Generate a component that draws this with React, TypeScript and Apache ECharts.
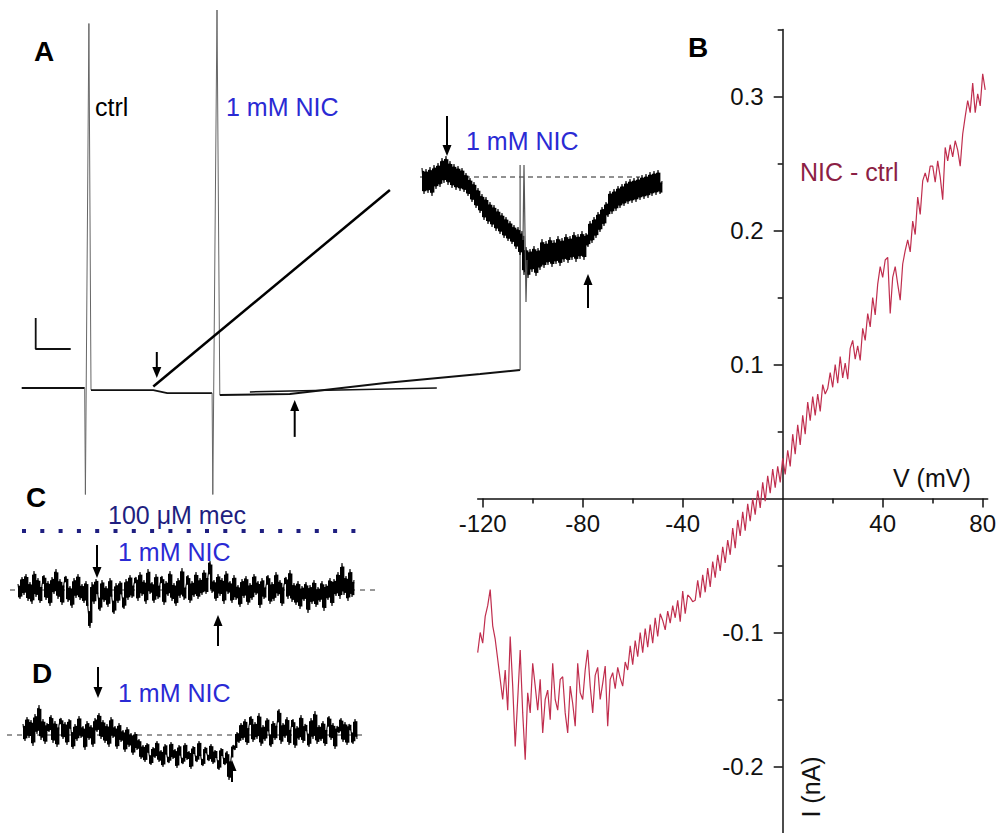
import React, { useEffect, useRef } from "react";
import * as echarts from "echarts";

// ---------- Panel B: I–V relation of the NIC-evoked current (NIC − ctrl) ----------
const ivStartMv = -122;
const ivStepMv = 1;
const ivCurrentNA = [
  -0.115, -0.100, -0.108, -0.088, -0.080, -0.068, -0.095, -0.105, -0.120, -0.135,
  -0.150, -0.128, -0.158, -0.103, -0.140, -0.185, -0.150, -0.113, -0.160, -0.195,
  -0.145, -0.160, -0.123, -0.140, -0.158, -0.135, -0.175, -0.150, -0.143, -0.165,
  -0.123, -0.150, -0.158, -0.135, -0.133, -0.160, -0.175, -0.140, -0.153, -0.170,
  -0.123, -0.145, -0.150, -0.128, -0.113, -0.140, -0.160, -0.132, -0.126, -0.150,
  -0.138, -0.125, -0.170, -0.135, -0.130, -0.142, -0.126, -0.134, -0.140, -0.122,
  -0.128, -0.110, -0.124, -0.106, -0.118, -0.100, -0.115, -0.097, -0.111, -0.094,
  -0.108, -0.089, -0.103, -0.086, -0.091, -0.098, -0.084, -0.093, -0.080, -0.089,
  -0.076, -0.092, -0.069, -0.086, -0.072, -0.074, -0.077, -0.076, -0.061, -0.074,
  -0.057, -0.070, -0.052, -0.066, -0.047, -0.059, -0.042, -0.054, -0.036, -0.048,
  -0.031, -0.042, -0.022, -0.037, -0.016, -0.028, -0.010, -0.024, -0.004, -0.017,
  0.000, -0.012, 0.006, -0.007, 0.012, -0.002, 0.017, 0.004, 0.022, 0.008,
  0.024, 0.012, 0.030, 0.018, 0.036, 0.024, 0.048, 0.033, 0.055, 0.040,
  0.062, 0.048, 0.072, 0.058, 0.076, 0.062, 0.078, 0.065, 0.085, 0.078,
  0.082, 0.094, 0.083, 0.100, 0.086, 0.106, 0.090, 0.101, 0.089, 0.112,
  0.118, 0.104, 0.114, 0.103, 0.127, 0.118, 0.138, 0.128, 0.150, 0.137,
  0.160, 0.173, 0.165, 0.178, 0.180, 0.138, 0.165, 0.173, 0.160, 0.148,
  0.175, 0.185, 0.193, 0.184, 0.207, 0.197, 0.225, 0.212, 0.237, 0.243,
  0.236, 0.248, 0.248, 0.236, 0.252, 0.240, 0.223, 0.262, 0.252, 0.264,
  0.255, 0.267, 0.260, 0.248, 0.272, 0.285, 0.297, 0.288, 0.310, 0.288,
  0.302, 0.293, 0.317, 0.305,
];
const xMajorTicksMv = [-120, -80, -40, 40, 80];
const xMinorTicksMv = [-100, -60, -20, 20, 60];
const yMajorTicksNA = [-0.2, -0.1, 0.1, 0.2, 0.3];
const yMinorTicksNA = [-0.15, -0.05, 0.05, 0.15, 0.25, 0.35];

// ---------- Panel A: whole-cell current (time s, current pA) ----------
const traceACtrl = [[3.1, 0], [12.1, 0]];
const traceARamp1 = [[12.1, 0], [12.2, -355], [12.7, 1215], [13.0, -7]];
const traceAMid = [[13.0, -7], [21.9, -7], [23.9, -17], [30.3, -17]];
const traceARamp2 = [[30.3, -17], [30.4, -355], [31.0, 1260], [31.4, -23]];
const traceANic = [[31.4, -23], [41.4, -20], [55.0, 17], [68.6, 47], [74.3, 60]];
const traceARamp3 = [[74.3, 60], [74.3, 743]];
const traceACtrlOverlay = [[35.7, -13], [62.4, 0]];
const zoomLine = [[21.9, 5], [55.7, 660]];
const scaleBar = [[5.1, 233], [5.1, 130], [10.1, 130]]; // 5 s / 100 pA

// inset (magnified NIC response)
const insetStartS = 0.2;
const insetStepS = 0.2;
const insetCurrentPA = [
  9, -17, 8, -16, 10, -19,
  12, -12, 14, -10, 19, -6, 21, -8, 16, -11, 13, -13, 11, -14,
  9, -15, 4, -19, -1, -25, -5, -31, -11, -36, -17,
  -43, -20, -47, -25, -50, -28, -54, -32, -57, -36, -61, -40, -64, -44, -67, -48, -72,
  -50, -78, -54,
  -98, -70, -101, -72, -95, -69, -99, -71,
  -93, -62, -91, -64, -88, -60, -90, -63, -87, -59, -89, -61,
  -85, -57, -86, -59, -83, -55, -85, -57, -82, -54, -83, -56,
  -70, -44, -66, -40, -61, -35, -55, -30, -49, -25,
  -40, -14, -37, -12, -34, -9, -31, -7, -29, -4, -27, -2, -26,
  -1, -25, 0, -23, 2, -22, 3, -21, 5, -19, 6, -18, 7, -17, -4,
];
const insetSpike = [[10.3, -63], [10.4, 12], [10.6, -125], [10.7, -83]];
const insetBaseline = [[0, 0], [22, 0]];

// ---------- Panel C: 100 µM mecamylamine + 1 mM NIC ----------
const cStartS = 1.8;
const cStepS = 0.2;
const cCurrentPA = [
  6, -9, 13, -5, 16, -11, 8, -14, 19, -7,
  12, -13, 5, 15, -10, 9, -16, 13, -4, 21,
  -9, 11, -15, 7, 14, -12, 4, -18, 12, -8,
  16, -10, 6, -13, 9, -19, -38, 8, -14, 11,
  -6, -21, 10, -12, 4, -17, 12, -9, -24, 7,
  -13, 9, -6, -19, 11, -10, 15, -8, 6, 13,
  -11, 18, -6, 10, -14, 21, -4, 8, -13, 16,
  -9, 6, 14, -15, 9, -6, 19, -11, 7, -16,
  12, -8, 22, -10, 4, 15, -13, 9, -7, 18,
  -9, 12, -5, 20, -4, 14, 29, -3, 10, -11,
  16, -6, 12, -14, 19, -4, 9, -13, 15, -10,
  5, -17, 11, -8, 14, -15, 7, -10, 16, -5,
  9, -18, 12, -9, 4, 15, -14, 8, -11, 18,
  -6, 10, -16, 5, 13, -9, 20, -12, 7, -15,
  9, -19, 4, -11, 8, -23, 5, -14, 10, -17,
  3, -12, 9, -21, 6, -10, 12, -16, 11, -6,
  18, -9, 27, -5, 14, -11, 21, -7, 10,
];
const cBaseline = [[1.0, 0], [37.8, 0]];
const mecBar = [[2.2, 59], [35.8, 59]];

// ---------- Panel D: 1 mM NIC ----------
const dStartS = 2.3;
const dStepS = 0.2;
const dCurrentPA = [
  11, -6, 18, -3, 15, -11, 21, 1, 30, -5,
  16, -9, 12, 3, 20, -8, 14, -12, 10, 17,
  -4, 13, -10, 16, 5, -14, 11, -6, 19, -3,
  9, -15, 14, -5, 10, -12, 17, 3, 22, -4,
  15, -8, 11, -12, 18, -3, 9, -14, 12, -7,
  5, -17, 8, -12, 2, -20, 3, -15, -4, -24,
  -10, -27, -8, -19, -30, -12, -23, -6, -27, -15,
  -32, -9, -21, -28, -7, -24, -14, -33, -10, -22,
  -29, -8, -25, -16, -34, -11, -20, -27, -6, -23,
  -31, -12, -19, -26, -9, -29, -15, -24, -35, -13,
  -22, -30, -16, -45, -24, -10, -15, 3, -8, 12,
  -5, 16, -10, 9, 19, -7, 13, -4, 22, -11,
  10, -6, 17, 2, -12, 14, -5, 11, 26, -9,
  12, -3, 18, -10, 7, 16, -13, 9, -5, 20,
  -8, 11, 3, -12, 17, -4, 24, -9, 10, -6,
  14, -11, 7, 19, -5, 12, -14, 9, 2, 17,
  -7, 13, -10, 11, 4, -9, 16, -4,
];
const dBaseline = [[0.7, 0], [36.7, 0]];

// arrows: [gridIndex, time, tail current, tip current]
const arrowMarks = [
  [0, 22.4, 120, 33],
  [0, 42.1, -163, -40],
  [1, 2.7, 61, 21],
  [1, 16.8, -131, -97],
  [2, 9.7, 45, 12],
  [2, 21.8, -56, -25],
  [3, 9.8, 68, 37],
  [3, 23.2, -47, -25],
];

const FONT = "'Liberation Sans', Arial, Helvetica, sans-serif";
const BLUE = "#2a2ad4";
const NAVY = "#1f1f80";
const MAROON = "#8c1f45";
const CURVE = "#c02e4e";

const sampled = (start: number, step: number, vals: number[]) =>
  vals.map((v, i) => [+(start + i * step).toFixed(3), v]);

// each sampling interval: [t, current at t, current at t + step]
const intervals = (start: number, step: number, vals: number[]) =>
  vals.slice(0, -1).map((v, i) => [+(start + i * step).toFixed(3), v, vals[i + 1]]);

const line = (
  data: number[][],
  axis: number,
  color: string,
  width: number,
  type: any = "solid",
  extra: any = {}
) => ({
  type: "line",
  xAxisIndex: axis,
  yAxisIndex: axis,
  data,
  showSymbol: false,
  symbol: "none",
  silent: true,
  animation: false,
  clip: false,
  lineStyle: { color, width, type, ...(extra.lineStyle || {}) },
  z: extra.z || 2,
});

// dense core of a noisy recording: the inner part of the range swept in each sampling interval
const CORE = 0.78;
const noiseBand = (data: number[][], axis: number, step: number) => ({
  type: "custom",
  coordinateSystem: "cartesian2d",
  xAxisIndex: axis,
  yAxisIndex: axis,
  data,
  silent: true,
  animation: false,
  clip: false,
  z: 3,
  encode: { x: 0, y: [1, 2] },
  renderItem: (params: any, api: any) => {
    const t = api.value(0);
    const p1 = api.coord([t, api.value(1)]);
    const p2 = api.coord([t + step, api.value(2)]);
    const mid = (p1[1] + p2[1]) / 2;
    const half = (Math.abs(p1[1] - p2[1]) / 2) * CORE;
    return {
      type: "rect",
      shape: { x: p1[0], y: mid - half, width: p2[0] - p1[0] + 0.4, height: Math.max(1, 2 * half) },
      style: { fill: "#000" },
    };
  },
});

const hiddenAxis = (gridIndex: number, min: number, max: number) => ({
  type: "value", gridIndex, min, max, show: false, splitLine: { show: false },
});

export default function App() {
  const ref = useRef<HTMLDivElement>(null);
  useEffect(() => {
    if (!ref.current) return;
    document.body.style.margin = "0";
    const chart = echarts.init(ref.current, null, { renderer: "svg" });
    const axisLineStyle = { color: "#111", width: 1.5 };
    const labelStyle = { fontSize: 24, color: "#111", fontFamily: FONT };
    // panel B geometry: V -122..82 mV, I -0.25..0.35 nA
    const bLeft = 477.7, bTop = 29.5, bWidth = 510, bHeight = 804;
    const bZeroX = bLeft + (bWidth * 122) / 204;
    const bZeroY = bTop + (bHeight * 0.35) / 0.6;
    const option: any = {
      animation: false,
      backgroundColor: "#fff",
      grid: [
        { left: 0, top: 4, width: 560, height: 498, outerBoundsMode: "none" },
        { left: 420, top: 147, width: 245, height: 180, outerBoundsMode: "none" },
        { left: 0, top: 510, width: 400, height: 120, outerBoundsMode: "none" },
        { left: 0, top: 695, width: 400, height: 90, outerBoundsMode: "none" },
        { left: bLeft, top: bTop, width: bWidth, height: bHeight, outerBoundsMode: "none" },
        // holder for the V axis (its bottom edge lies at I = 0)
        { left: bLeft, top: bTop, width: bWidth, height: bZeroY - bTop, outerBoundsMode: "none" },
        // holder for the I axis (its left edge lies at V = 0)
        { left: bZeroX, top: bTop, width: bLeft + bWidth - bZeroX, height: bHeight, outerBoundsMode: "none" },
      ],
      xAxis: [
        hiddenAxis(0, 0, 80),
        hiddenAxis(1, 0, 24.5),
        hiddenAxis(2, 0, 40),
        hiddenAxis(3, 0, 40),
        hiddenAxis(4, -122, 82),
        {
          type: "value", gridIndex: 5, min: -122, max: 82, position: "bottom",
          axisLine: { show: true, onZero: false, lineStyle: axisLineStyle },
          axisTick: { show: true, customValues: xMajorTicksMv, length: 9, lineStyle: axisLineStyle },
          axisLabel: { show: true, customValues: xMajorTicksMv, margin: 13, ...labelStyle },
          splitLine: { show: false },
        },
        {
          type: "value", gridIndex: 5, min: -122, max: 82, position: "bottom",
          axisLine: { show: false, onZero: false },
          axisTick: { show: true, customValues: xMinorTicksMv, length: 5, lineStyle: axisLineStyle },
          axisLabel: { show: false },
          splitLine: { show: false },
        },
        hiddenAxis(6, 0, 82),
      ],
      yAxis: [
        hiddenAxis(0, -380, 1280),
        hiddenAxis(1, -150, 30),
        hiddenAxis(2, -40, 80),
        hiddenAxis(3, -50, 40),
        hiddenAxis(4, -0.25, 0.35),
        hiddenAxis(5, 0, 0.35),
        {
          type: "value", gridIndex: 6, min: -0.25, max: 0.35, position: "left",
          axisLine: { show: true, onZero: false, lineStyle: axisLineStyle },
          axisTick: { show: true, customValues: yMajorTicksNA, length: 9, lineStyle: axisLineStyle },
          axisLabel: {
            show: true, customValues: yMajorTicksNA, margin: 19, ...labelStyle,
            formatter: (v: number) => String(+v.toFixed(2)),
          },
          splitLine: { show: false },
        },
        {
          type: "value", gridIndex: 6, min: -0.25, max: 0.35, position: "left",
          axisLine: { show: false, onZero: false },
          axisTick: { show: true, customValues: yMinorTicksNA, length: 5, lineStyle: axisLineStyle },
          axisLabel: { show: false },
          splitLine: { show: false },
        },
      ],
      series: [
        // Panel A
        line(traceACtrl, 0, "#111", 1.8),
        line(traceARamp1, 0, "#666", 1),
        line(traceAMid, 0, "#111", 1.8),
        line(traceARamp2, 0, "#666", 1),
        line(traceANic, 0, "#111", 2),
        line(traceARamp3, 0, "#555", 1.2),
        line(traceACtrlOverlay, 0, "#111", 1.5),
        line(zoomLine, 0, "#000", 2.5),
        line(scaleBar, 0, "#111", 1.8),
        // inset
        line(insetBaseline, 1, "#222", 1, [5, 4], { z: 1 }),
        noiseBand(intervals(insetStartS, insetStepS, insetCurrentPA), 1, insetStepS),
        line(sampled(insetStartS, insetStepS, insetCurrentPA), 1, "#000", 1.1),
        line(insetSpike, 1, "#555", 1.2, "solid", { z: 4 }),
        // C
        line(mecBar, 2, NAVY, 4, [4, 14.3], { lineStyle: { cap: "butt" } }),
        line(cBaseline, 2, "#333", 1, [5, 5], { z: 1 }),
        noiseBand(intervals(cStartS, cStepS, cCurrentPA), 2, cStepS),
        line(sampled(cStartS, cStepS, cCurrentPA), 2, "#000", 1.1),
        // D
        line(dBaseline, 3, "#333", 1, [5, 5], { z: 1 }),
        noiseBand(intervals(dStartS, dStepS, dCurrentPA), 3, dStepS),
        line(sampled(dStartS, dStepS, dCurrentPA), 3, "#000", 1.1),
        // B
        {
          ...line(sampled(ivStartMv, ivStepMv, ivCurrentNA), 4, CURVE, 1.2),
          clip: true,
        },
      ],
    };
    chart.setOption(option);

    const graphics: any[] = [];
    arrowMarks.forEach(([g, t, tail, tip]) => {
      const p1 = chart.convertToPixel({ gridIndex: g } as any, [t, tail]) as number[];
      const p2 = chart.convertToPixel({ gridIndex: g } as any, [t, tip]) as number[];
      if (!p1 || !p2) return;
      const dir = p2[1] > p1[1] ? 1 : -1;
      const headLen = 11;
      const half = 4.5;
      graphics.push({
        type: "line",
        silent: true,
        z: 10,
        shape: { x1: p1[0], y1: p1[1], x2: p2[0], y2: p2[1] - dir * (headLen - 2) },
        style: { stroke: "#000", lineWidth: 2 },
      });
      graphics.push({
        type: "polygon",
        silent: true,
        z: 10,
        shape: {
          points: [
            [p2[0], p2[1]],
            [p2[0] - half, p2[1] - dir * headLen],
            [p2[0] + half, p2[1] - dir * headLen],
          ],
        },
        style: { fill: "#000" },
      });
    });

    const texts: any[] = [
      { text: "A", x: 34, y: 51, size: 28, weight: "bold", color: "#000" },
      { text: "ctrl", x: 95, y: 107, size: 25, color: "#000" },
      { text: "1 mM NIC", x: 226, y: 107, size: 25, color: BLUE },
      { text: "1 mM NIC", x: 466, y: 141, size: 25, color: BLUE },
      { text: "B", x: 688, y: 47, size: 28, weight: "bold", color: "#000" },
      { text: "NIC - ctrl", x: 800, y: 172, size: 25, color: MAROON },
      { text: "V (mV)", x: 893, y: 478, size: 25, color: "#111" },
      { text: "C", x: 26, y: 497, size: 28, weight: "bold", color: "#000" },
      { text: "100 \u03bcM mec", x: 108, y: 515, size: 25, color: NAVY },
      { text: "1 mM NIC", x: 118, y: 552, size: 25, color: BLUE },
      { text: "D", x: 32, y: 673, size: 28, weight: "bold", color: "#000" },
      { text: "1 mM NIC", x: 118, y: 693, size: 25, color: BLUE },
    ];
    texts.forEach((t) =>
      graphics.push({
        type: "text",
        x: t.x,
        y: t.y,
        silent: true,
        style: {
          text: t.text,
          fill: t.color,
          fontSize: t.size,
          fontWeight: t.weight || "normal",
          fontFamily: FONT,
          align: "left",
          verticalAlign: "middle",
        },
      })
    );
    graphics.push({
      type: "text",
      x: 811,
      y: 787,
      rotation: Math.PI / 2,
      silent: true,
      style: {
        text: "I (nA)",
        fill: "#111",
        fontSize: 25,
        fontFamily: FONT,
        align: "center",
        verticalAlign: "middle",
      },
    });

    chart.setOption({ graphic: graphics });
    return () => chart.dispose();
  }, []);

  return (
    <div
      ref={ref}
      style={{ position: "absolute", left: 0, top: 0, width: 998, height: 833, background: "#fff" }}
    />
  );
}
